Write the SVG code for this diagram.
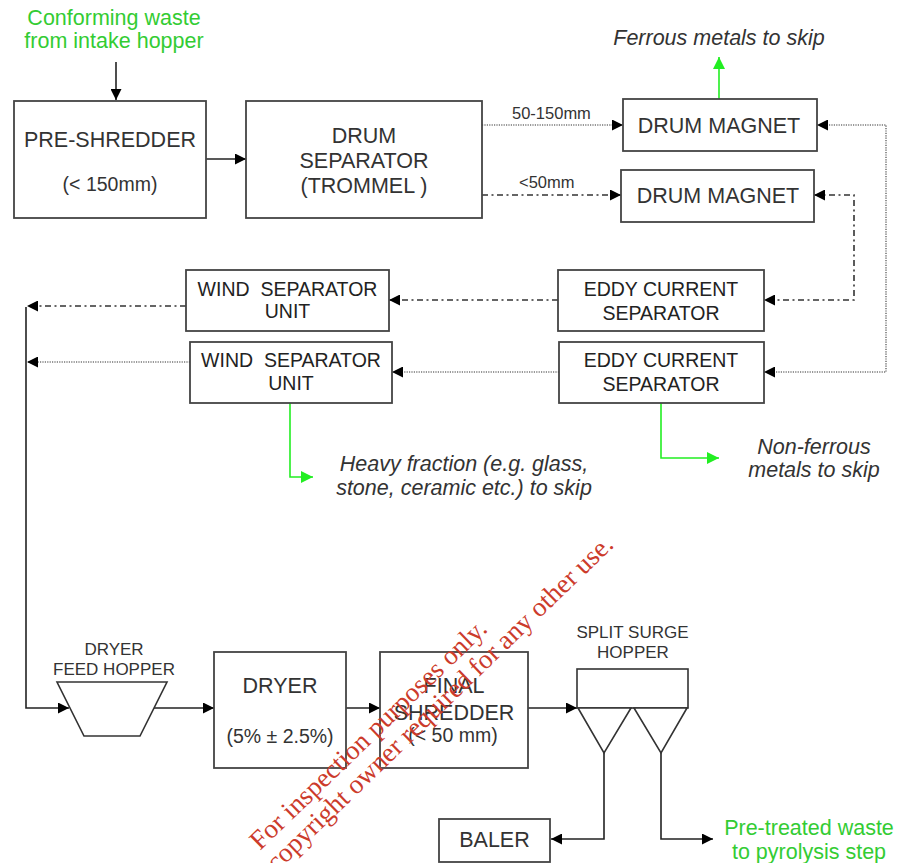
<svg xmlns="http://www.w3.org/2000/svg" width="898" height="863" viewBox="0 0 898 863">
  <defs>
    <marker id="arrow" viewBox="0 0 10 10" refX="10" refY="5" markerWidth="11" markerHeight="11" markerUnits="userSpaceOnUse" orient="auto-start-reverse">
      <path d="M0,0 L10,5 L0,10 Z" fill="#000"/>
    </marker>
    <marker id="arrow-green" viewBox="0 0 10 10" refX="10" refY="5" markerWidth="12" markerHeight="12" markerUnits="userSpaceOnUse" orient="auto-start-reverse">
      <path d="M0,0 L10,5 L0,10 Z" fill="#22ee22"/>
    </marker>
    <style>
      .box { fill: #fff; stroke: #444; stroke-width: 1.8; }
      .shape { fill: #fff; stroke: #333; stroke-width: 1.6; }
      .lbl { font-family: "Liberation Sans", Arial, sans-serif; font-size: 21.5px; fill: #333; text-anchor: middle; }
      .sub { font-family: "Liberation Sans", Arial, sans-serif; font-size: 19.5px; fill: #333; text-anchor: middle; }
      .mid { font-family: "Liberation Sans", Arial, sans-serif; font-size: 19.5px; fill: #222; text-anchor: middle; }
      .small { font-family: "Liberation Sans", Arial, sans-serif; font-size: 17px; fill: #333; text-anchor: middle; }
      .tag { font-family: "Liberation Sans", Arial, sans-serif; font-size: 16.5px; fill: #333; }
      .note { font-family: "Liberation Sans", Arial, sans-serif; font-size: 21.5px; font-style: italic; fill: #333; text-anchor: middle; }
      .green { font-family: "Liberation Sans", Arial, sans-serif; font-size: 21.5px; fill: #33cc33; text-anchor: middle; }
      .solid { fill: none; stroke: #222; stroke-width: 1.6; }
      .dotted { fill: none; stroke: #777; stroke-width: 1.6; stroke-dasharray: 1.2 1.2; }
      .dashdot { fill: none; stroke: #333; stroke-width: 1.6; stroke-dasharray: 6 3.5 2 3.5; }
      .gline { fill: none; stroke: #22ee22; stroke-width: 1.6; }
      .mark { font-family: "Liberation Serif", "Times New Roman", serif; font-size: 27px; fill: #cc3b2b; }
    </style>
  </defs>

  <rect width="898" height="863" fill="#fff"/>

  <!-- free-standing labels -->
  <text class="green" x="114" y="25">Conforming waste</text>
  <text class="green" x="114" y="48">from intake hopper</text>
  <text class="note" x="719" y="45">Ferrous metals to skip</text>
  <text class="note" x="464" y="471">Heavy fraction (e.g. glass,</text>
  <text class="note" x="464" y="495">stone, ceramic etc.) to skip</text>
  <text class="note" x="814" y="454">Non-ferrous</text>
  <text class="note" x="814" y="477">metals to skip</text>
  <text class="green" x="809" y="835">Pre-treated waste</text>
  <text class="green" x="809" y="859">to pyrolysis step</text>
  <text class="tag" x="512" y="119">50-150mm</text>
  <text class="tag" x="519" y="188">&lt;50mm</text>

  <!-- connectors -->
  <g id="connectors">
    <path class="solid" d="M116,62 V100" marker-end="url(#arrow)"/>
    <path class="solid" d="M206,159 H246" marker-end="url(#arrow)"/>
    <path class="dotted" d="M482,125 H623" marker-end="url(#arrow)"/>
    <path class="dashdot" d="M482,195 H621" marker-end="url(#arrow)"/>
    <path class="dotted" d="M817,125 H886 V372 H764" marker-start="url(#arrow)" marker-end="url(#arrow)"/>
    <path class="dashdot" d="M814,195 H854 V300 H764" marker-start="url(#arrow)" marker-end="url(#arrow)"/>
    <path class="dashdot" d="M558,300 H389" marker-end="url(#arrow)"/>
    <path class="dotted" d="M559,372 H392" marker-end="url(#arrow)"/>
    <path class="dashdot" d="M186,306 H27" marker-end="url(#arrow)"/>
    <path class="dotted" d="M190,362 H27" marker-end="url(#arrow)"/>
    <path class="solid" d="M26,307 V708 H69" marker-end="url(#arrow)"/>
    <path class="solid" d="M154,708 H214" marker-end="url(#arrow)"/>
    <path class="solid" d="M346,708 H380" marker-end="url(#arrow)"/>
    <path class="solid" d="M528,708 H577" marker-end="url(#arrow)"/>
    <path class="solid" d="M604,753 V839 H551" marker-end="url(#arrow)"/>
    <path class="solid" d="M661,753 V839 H713" marker-end="url(#arrow)"/>
    <path class="gline" d="M719,99 V57" marker-end="url(#arrow-green)"/>
    <path class="gline" d="M290,403 V477 H313" marker-end="url(#arrow-green)"/>
    <path class="gline" d="M661,403 V458 H719" marker-end="url(#arrow-green)"/>
  </g>

  <g id="pre-shredder">
    <rect class="box" x="14" y="101" width="192" height="117"/>
    <text class="lbl" x="110" y="147">PRE-SHREDDER</text>
    <text class="sub" x="110" y="191">(&lt; 150mm)</text>
  </g>

  <g id="drum-separator">
    <rect class="box" x="246" y="101" width="236" height="117"/>
    <text class="lbl" x="364" y="143">DRUM</text>
    <text class="lbl" x="364" y="168">SEPARATOR</text>
    <text class="lbl" x="364" y="193">(TROMMEL )</text>
  </g>

  <g id="drum-magnet-1">
    <rect class="box" x="623" y="99" width="194" height="52"/>
    <text class="lbl" x="719" y="133">DRUM MAGNET</text>
  </g>

  <g id="drum-magnet-2">
    <rect class="box" x="621" y="170" width="193" height="52"/>
    <text class="lbl" x="718" y="203">DRUM MAGNET</text>
  </g>

  <g id="eddy-current-1">
    <rect class="box" x="558" y="270" width="206" height="61"/>
    <text class="mid" x="661" y="296">EDDY CURRENT</text>
    <text class="mid" x="661" y="320">SEPARATOR</text>
  </g>

  <g id="eddy-current-2">
    <rect class="box" x="559" y="342" width="205" height="61"/>
    <text class="mid" x="661" y="367">EDDY CURRENT</text>
    <text class="mid" x="661" y="391">SEPARATOR</text>
  </g>

  <g id="wind-separator-1">
    <rect class="box" x="186" y="270" width="203" height="61"/>
    <text class="mid" x="287.5" y="296" xml:space="preserve">WIND  SEPARATOR</text>
    <text class="mid" x="287.5" y="318">UNIT</text>
  </g>

  <g id="wind-separator-2">
    <rect class="box" x="190" y="342" width="202" height="61"/>
    <text class="mid" x="291" y="367" xml:space="preserve">WIND  SEPARATOR</text>
    <text class="mid" x="291" y="390">UNIT</text>
  </g>

  <g id="dryer-feed-hopper">
    <path class="shape" d="M57,682 H167 L140,736 H84 Z"/>
    <text class="small" x="114" y="655">DRYER</text>
    <text class="small" x="114" y="675">FEED HOPPER</text>
  </g>

  <g id="dryer">
    <rect class="box" x="214" y="652" width="132" height="116"/>
    <text class="lbl" x="280" y="693">DRYER</text>
    <text class="sub" x="280" y="743">(5% ± 2.5%)</text>
  </g>

  <g id="final-shredder">
    <rect class="box" x="380" y="652" width="148" height="116"/>
    <text class="lbl" x="454" y="693">FINAL</text>
    <text class="lbl" x="454" y="720">SHREDDER</text>
    <text class="sub" x="453" y="742">(&lt; 50 mm)</text>
  </g>

  <g id="split-surge-hopper">
    <rect class="shape" x="577" y="669" width="111" height="39"/>
    <path class="shape" d="M578,708 H631 L604,753 Z"/>
    <path class="shape" d="M634,708 H687 L661,753 Z"/>
    <text class="small" x="632.5" y="638">SPLIT SURGE</text>
    <text class="small" x="633" y="658">HOPPER</text>
  </g>

  <g id="baler">
    <rect class="box" x="439" y="819" width="111" height="43"/>
    <text class="lbl" x="494.5" y="847">BALER</text>
  </g>

  <!-- overprinted notice -->
  <g transform="translate(260,851) rotate(-44)">
    <text class="mark" x="0" y="0">For inspection purposes only.</text>
    <text class="mark" x="-3" y="27">copyright owner required for any other use.</text>
  </g>
</svg>
